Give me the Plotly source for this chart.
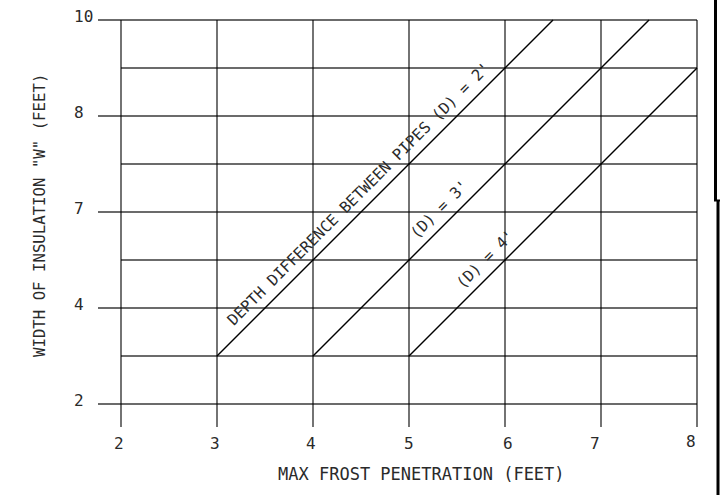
import plotly.graph_objects as go

# ---- data ----
x_ticks = [2, 3, 4, 5, 6, 7, 8]
x_tick_labels = ["2", "3", "4", "5", "6", "7", "8"]

# horizontal grid rows (evenly spaced positions) and the labelled ones
y_rows = [0, 1, 2, 3, 4, 5, 6, 7, 8]
y_tick_pos = [0, 2, 4, 6, 8]
y_tick_labels = ["2", "4", "7", "8", "10"]

# depth-difference lines
d2_x = [3, 6.5]
d2_y = [1, 8]
d3_x = [4, 7.5]
d3_y = [1, 8]
d4_x = [5, 8]
d4_y = [1, 7]

line_labels = ["DEPTH DIFFERENCE BETWEEN PIPES (D) = 2'", "(D) = 3'", "(D) = 4'"]
x_title = "MAX FROST PENETRATION (FEET)"
y_title = 'WIDTH OF INSULATION "W" (FEET)'

# ---- layout geometry (styles / positions) ----
W, H = 720, 495
ML, MR, MT, MB = 97, 0, 12, 60
PW, PH = W - ML - MR, H - MT - MB
px_per_x = 96.0
px_per_y = 48.0
x0 = 2 - 24 / px_per_x
x1 = x0 + PW / px_per_x
y1 = 8 + 8 / px_per_y
y0 = y1 - PH / px_per_y

FONT = "DejaVu Sans Mono"
TXT = "#2a2a2a"


def px(p):
    return (p - ML) / PW


def py(q):
    return (H - MB - q) / PH


fig = go.Figure()

# horizontal grid
hx, hy = [], []
for r in y_rows:
    start = 2 - 23 / px_per_x if r in y_tick_pos else x_ticks[0]
    hx += [start, x_ticks[-1], None]
    hy += [r, r, None]
fig.add_trace(go.Scatter(x=hx, y=hy, mode="lines",
                         line=dict(color="#3a3a3a", width=1.5),
                         hoverinfo="skip", showlegend=False))

# vertical grid
vx, vy = [], []
for xv in x_ticks:
    vx += [xv, xv, None]
    vy += [y_rows[0] - 23 / px_per_y, y_rows[-1], None]
fig.add_trace(go.Scatter(x=vx, y=vy, mode="lines",
                         line=dict(color="#000000", width=1.1),
                         hoverinfo="skip", showlegend=False))

# diagonal lines
for xs, ys in [(d2_x, d2_y), (d3_x, d3_y), (d4_x, d4_y)]:
    fig.add_trace(go.Scatter(x=xs, y=ys, mode="lines",
                             line=dict(color="#000000", width=1.4),
                             hoverinfo="skip", showlegend=False))

annotations = []

# labels along the diagonal lines (offset ~14px perpendicular, up-left)
off_x = -10 / px_per_x
off_y = 10 / px_per_y
label_along = [4.583, 5.427, 5.906]
for lbl, xa, (xs, ys) in zip(line_labels, label_along,
                             [(d2_x, d2_y), (d3_x, d3_y), (d4_x, d4_y)]):
    slope = (ys[1] - ys[0]) / (xs[1] - xs[0])
    ya = ys[0] + slope * (xa - xs[0])
    annotations.append(dict(x=xa + off_x, y=ya + off_y, xref="x", yref="y",
                            text=lbl, showarrow=False, textangle=-45,
                            xanchor="center", yanchor="middle",
                            font=dict(family=FONT, size=15.5, color=TXT)))

# x tick labels
x_shift = [-2, -2, -2, 0, 3, -6, -6]
for xv, t, s in zip(x_ticks, x_tick_labels, x_shift):
    annotations.append(dict(x=xv, y=py(444 if t != "8" else 441), xref="x", yref="paper",
                            text=t, showarrow=False, xshift=s,
                            xanchor="center", yanchor="middle",
                            font=dict(family=FONT, size=16, color=TXT)))

# y tick labels (left aligned)
for yv, t in zip(y_tick_pos, y_tick_labels):
    annotations.append(dict(x=px(72), y=yv, xref="paper", yref="y",
                            text=t, showarrow=False, yshift=4,
                            xanchor="left", yanchor="middle",
                            font=dict(family=FONT, size=16, color=TXT)))

# axis titles
annotations.append(dict(x=px(421), y=py(474), xref="paper", yref="paper",
                        text=x_title, showarrow=False,
                        xanchor="center", yanchor="middle",
                        font=dict(family=FONT, size=17, color=TXT)))
annotations.append(dict(x=px(39), y=py(216), xref="paper", yref="paper",
                        text=y_title, showarrow=False,
                        textangle=-90, xanchor="center", yanchor="middle",
                        font=dict(family=FONT, size=15.7, color=TXT)))

# right frame border
shapes = [
    dict(type="line", xref="paper", yref="paper", x0=px(715.5), x1=px(715.5),
         y0=py(0), y1=py(200), line=dict(color="#000", width=3)),
    dict(type="line", xref="paper", yref="paper", x0=px(714), x1=px(720),
         y0=py(200.5), y1=py(200.5), line=dict(color="#000", width=2)),
    dict(type="line", xref="paper", yref="paper", x0=px(718), x1=px(718),
         y0=py(200), y1=py(495), line=dict(color="#000", width=3)),
]

fig.update_layout(
    width=W, height=H,
    margin=dict(l=ML, r=MR, t=MT, b=MB, pad=0),
    paper_bgcolor="white", plot_bgcolor="white",
    xaxis=dict(range=[x0, x1], visible=False, fixedrange=True),
    yaxis=dict(range=[y0, y1], visible=False, fixedrange=True),
    annotations=annotations,
    shapes=shapes,
    showlegend=False,
)

fig.write_html("out.html",
               config={"displayModeBar": False},
               post_script="document.body.style.margin='0';document.body.style.overflow='hidden';")
